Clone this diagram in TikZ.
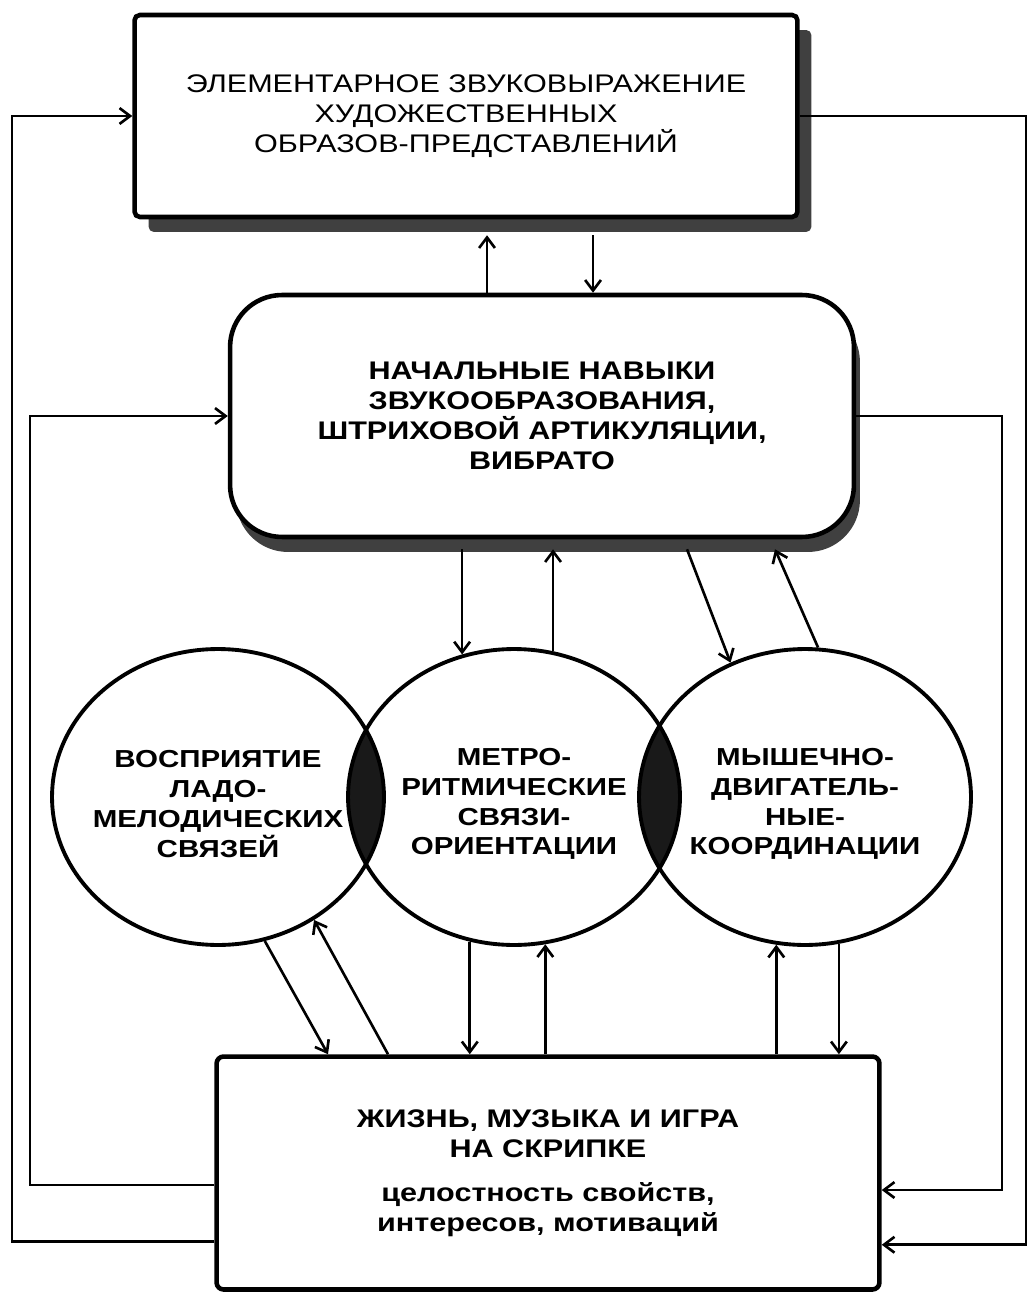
\documentclass[tikz,border=0pt]{standalone}
\usepackage{fontspec}
\setmainfont{Liberation Sans}[FakeStretch=1.2]
\usetikzlibrary{calc}
\usetikzlibrary{shapes}
\usetikzlibrary{shadows}
\usetikzlibrary{arrows.meta}
\newcommand{\labfont}{\fontsize{14.5}{17}\selectfont}
\newcommand{\ovalfont}{\fontsize{14}{17}\selectfont}

\begin{document}
\begin{tikzpicture}[x=0.02cm,y=-0.02cm]
% % Styles
 \tikzset{
 	>={Straight Barb[length=6pt,width=9pt]},
 	link/.style={line width=1.5pt,->},
 	box/.style={draw,fill=white,line width=2.6pt,align=center,inner sep=0pt,font=\labfont\bfseries},
 	shade/.style={drop shadow={shadow xshift=#1,shadow yshift=-0.3cm,fill=black!75,opacity=1}},
 	oval/.style={draw,ellipse,line width=2.2pt,minimum width=6.64cm,minimum height=5.92cm,
 		inner sep=0pt,label={[align=center,font=\ovalfont\bfseries,yshift=-0.14cm]center:#1}},
 	lens/.style={fill=black!90}
 }
 \useasboundingbox (0,0) rectangle (1030,1293);
% % Centres of the three ovals
 \coordinate (cL) at (218,797);
 \coordinate (cM) at (514,797);
 \coordinate (cR) at (805,797);
% dark overlaps
 \begin{scope}
 	\clip (cL) ellipse [x radius=3.32cm,y radius=2.96cm];
 	\fill[lens] (cM) ellipse [x radius=3.32cm,y radius=2.96cm];
 \end{scope}
 \begin{scope}
 	\clip (cM) ellipse [x radius=3.32cm,y radius=2.96cm];
 	\fill[lens] (cR) ellipse [x radius=3.32cm,y radius=2.96cm];
 \end{scope}
% % Blocks
 \node[box,shade=0.28cm,rounded corners=3pt,minimum width=13.26cm,minimum height=4.04cm,
 	font=\labfont\mdseries] (top) at (466,116)
 	{ЭЛЕМЕНТАРНОЕ ЗВУКОВЫРАЖЕНИЕ\\ХУДОЖЕСТВЕННЫХ\\ОБРАЗОВ-ПРЕДСТАВЛЕНИЙ};
 \node[box,shade=0.12cm,rounded corners=1.04cm,minimum width=12.48cm,minimum height=4.84cm]
 	(skill) at (542,416)
 	{НАЧАЛЬНЫЕ НАВЫКИ\\ЗВУКООБРАЗОВАНИЯ,\\ШТРИХОВОЙ АРТИКУЛЯЦИИ,\\ВИБРАТО};
 \node[oval={ВОСПРИЯТИЕ\\ЛАДО-\\МЕЛОДИЧЕСКИХ\\СВЯЗЕЙ}] (left) at (cL) {};
 \node[oval={МЕТРО-\\РИТМИЧЕСКИЕ\\СВЯЗИ-\\ОРИЕНТАЦИИ}] (mid) at (cM) {};
 \node[oval={МЫШЕЧНО-\\ДВИГАТЕЛЬ-\\НЫЕ-\\КООРДИНАЦИИ}] (right) at (cR) {};
 \node[box,rounded corners=4pt,minimum width=13.26cm,minimum height=4.66cm] (life) at (548,1173)
 	{ЖИЗНЬ, МУЗЫКА И ИГРА\\НА СКРИПКЕ\\[8pt]целостность свойств,\\интересов, мотиваций};
% % Shadow edges
 \coordinate (topsh) at ($(top.south)+(0,16)$);
 \coordinate (skillsh) at ($(skill.south)+(0,10)$);
% top <-> skill
 \coordinate (up1) at ($(skill.north)+(-55,0)$);
 \coordinate (dn1) at ($(skill.north)+(51,0)$);
 \draw[link] (up1) -- (up1 |- topsh);
 \draw[link] (dn1 |- topsh) -- (dn1);
% skill <-> ovals
 \draw[link] (mid.110 |- skillsh) -- (mid.110);
 \draw[link] (mid.75) -- (mid.75 |- skillsh);
 \draw[link] ($(skillsh)+(145,0)$) -- (right.119);
 \draw[link] (right.85) -- ($(skillsh)+(233,0)$);
% ovals <-> life
 \draw[link] (left.288) -- ($(life.north)+(-220,0)$);
 \draw[link] ($(life.north)+(-160,0)$) -- (left.308);
 \draw[link] (mid.253) -- (mid.253 |- life.north);
 \draw[link] (mid.282 |- life.north) -- (mid.282);
 \draw[link] (right.259 |- life.north) -- (right.259);
 \draw[link] (right.283) -- (right.283 |- life.north);
% % Feedback loops
 \coordinate (oL) at (12,0);
 \coordinate (iL) at (30,0);
 \coordinate (iR) at (1002,0);
 \coordinate (oR) at (1026,0);
 \coordinate (lifeo) at ($(life.south east)+(0,-47)$);
 \coordinate (lifei) at ($(life.east)+(0,17)$);
 \draw[link] ($(life.south west)+(0,-50)$) -| (oL |- top.west) -- (top.west);
 \draw[link] ($(life.west)+(0,12)$) -| (iL |- skill.west) -- (skill.west);
 \draw[link] (top.east) -| (oR |- lifeo) -- (lifeo);
 \draw[link] (skill.east) -| (iR |- lifei) -- (lifei);
\end{tikzpicture}
\end{document}
